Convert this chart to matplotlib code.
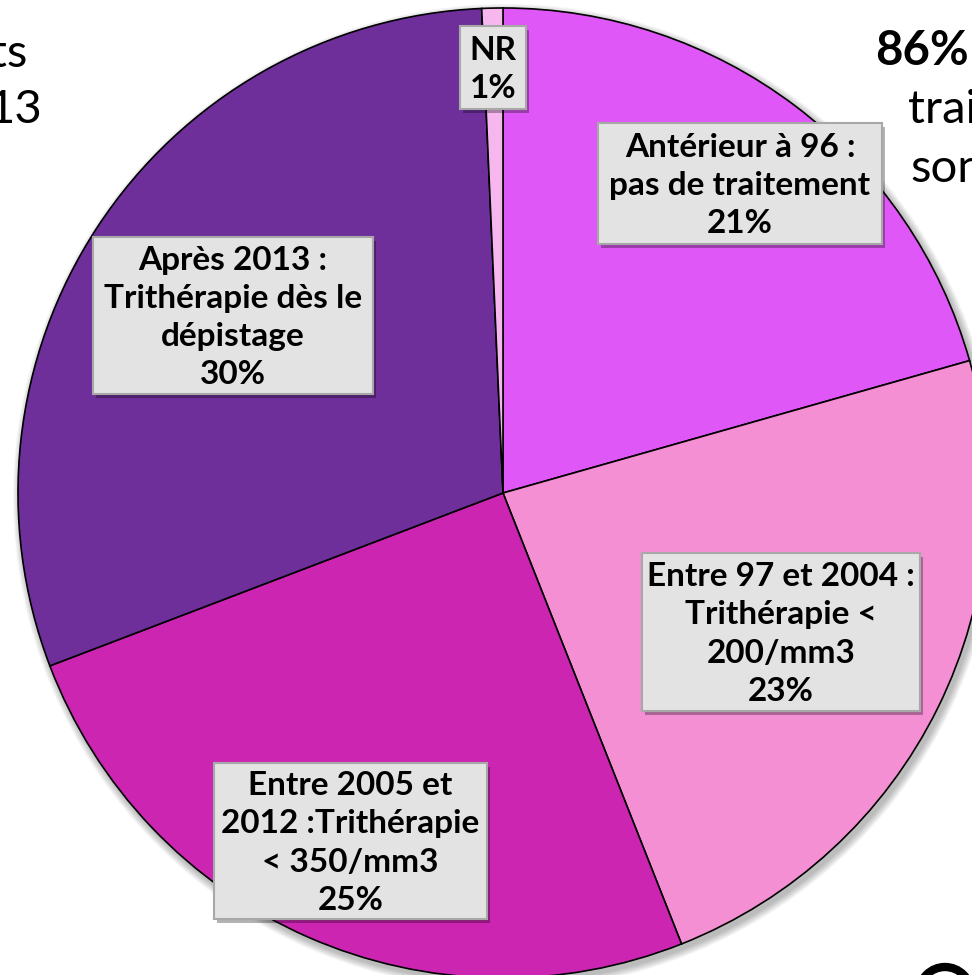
import matplotlib.pyplot as plt
from matplotlib.patches import Rectangle, Circle

# Slice data (clockwise from 12 o'clock)
categories = ['Antérieur à 96', 'Entre 97 et 2004', 'Entre 2005 et 2012', 'Après 2013', 'NR']
shares = [20.6, 23.4, 25.2, 30.1, 0.7]
label_texts = [
    'Antérieur à 96 :\npas de traitement\n21%',
    'Entre 97 et 2004 :\nTrithérapie <\n200/mm3\n23%',
    'Entre 2005 et\n2012 :Trithérapie\n< 350/mm3\n25%',
    'Après 2013 :\nTrithérapie dès le\ndépistage\n30%',
    'NR\n1%',
]
colors = ['#DF57F6', '#F58FD3', '#CB25B2', '#6E2F9B', '#F6B7EE']

# label boxes, pixel coords (x0, y0, x1, y1)
boxes = [
    (598, 123, 882, 244),
    (642, 553, 920, 711),
    (214, 763, 487, 919),
    (93, 237, 373, 394),
    (460, 26, 526, 109),
]

W, H = 972, 975
fig = plt.figure(figsize=(W / 100, H / 100), dpi=100)
ax = fig.add_axes([0, 0, 1, 1])

cx, cy, r = 503, 493, 485

# soft shadow behind the pie
for k in range(8):
    ax.add_patch(Circle((cx + 3, cy + 4), r + 1 + k, color='black',
                        alpha=0.035, lw=0, zorder=0))

ax.pie(shares, colors=colors, center=(cx, cy), radius=r,
       startangle=-90, counterclock=True,
       wedgeprops=dict(edgecolor='black', linewidth=1.2))

ax.set_xlim(0, W)
ax.set_ylim(H, 0)
ax.set_aspect('equal')
ax.axis('off')

for (x0, y0, x1, y1), txt in zip(boxes, label_texts):
    # box shadow
    ax.add_patch(Rectangle((x0 + 3, y0 + 4), x1 - x0, y1 - y0,
                           fc='black', alpha=0.3, lw=0, zorder=3))
    ax.add_patch(Rectangle((x0, y0), x1 - x0, y1 - y0,
                           fc='#E3E3E3', ec='#A8A8A8', lw=1.5, zorder=4))
    ax.text((x0 + x1) / 2, (y0 + y1) / 2 + 2, txt, ha='center', va='center',
            fontsize=24, fontweight='bold', family='Lato',
            linespacing=1.38, zorder=5)

# cut-off text around the chart
ax.text(27, 67, 'ts', ha='right', va='baseline', fontsize=34, family='Lato')
ax.text(42, 123, '13', ha='right', va='baseline', fontsize=34, family='Lato')
ax.text(875, 65, '86%', ha='left', va='baseline', fontsize=34,
        fontweight='bold', family='Lato')
ax.text(908, 123, 'traités', ha='left', va='baseline', fontsize=34, family='Lato')
ax.text(910, 182, 'sont', ha='left', va='baseline', fontsize=34, family='Lato')

# partial logo ring at the bottom right
ax.add_patch(Circle((945, 993), 26, fill=False, ec='black', lw=6, zorder=2))

fig.savefig('out.png', dpi=100)
